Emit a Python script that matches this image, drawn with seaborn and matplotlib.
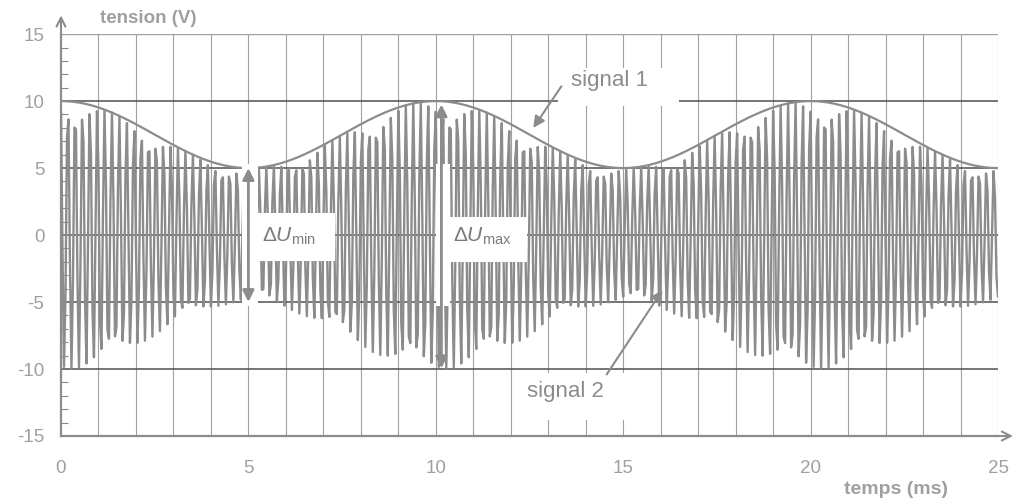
import numpy as np
import pandas as pd
import matplotlib
matplotlib.use("Agg")
import matplotlib.pyplot as plt
from matplotlib.patches import Rectangle
import seaborn as sns

# values (ms, V)
t_end = 25.0
u_max = 10.0           # envelope maximum (signal 1)
u_min = 5.0            # envelope minimum
mod_period = 10.0      # envelope period, ms
carrier_period = 0.2   # signal 2 carrier period, ms
sample_step = 0.04     # sampling of the recorded curve, ms

x_ticks = [0, 5, 10, 15, 20, 25]
y_ticks = [-15, -10, -5, 0, 5, 10, 15]
y_tick_labels = ["-15", "-10", "-5", "0", "5", "10", "15"]

# the two curves
t = np.arange(0, t_end + sample_step / 2, sample_step)
mean = (u_max + u_min) / 2
amp = (u_max - u_min) / 2
env = mean + amp * np.cos(2 * np.pi * t / mod_period)
sig2 = env * np.cos(2 * np.pi * t / carrier_period * 1.02 + 0.4)
df = pd.DataFrame({"t": t, "signal 1": env, "signal 2": sig2})

sns.set_style("white")
plt.rcParams["font.family"] = ["Liberation Sans", "DejaVu Sans"]
plt.rcParams["mathtext.fontset"] = "custom"
plt.rcParams["mathtext.rm"] = "Liberation Sans"
plt.rcParams["mathtext.it"] = "Liberation Sans:italic"

gray = "#8c8c8c"
light = "#a0a0a0"
dark = "#505050"

fig = plt.figure(figsize=(10.13, 4.98), dpi=100)
ax = fig.add_axes([0.0602, 0.1245, 0.925, 0.807])

# grid
for x in range(1, 26):
    ax.axvline(x, color=light, lw=0.8, zorder=1)
for y in [-10, -5, 0, 5, 10]:
    ax.axhline(y, color=dark, lw=1.1, zorder=1)
ax.axhline(15, color=light, lw=1.0, zorder=1)

sns.lineplot(data=df, x="t", y="signal 2", ax=ax, color=gray, lw=1.7,
             estimator=None, sort=False, zorder=2)
sns.lineplot(data=df, x="t", y="signal 1", ax=ax, color=gray, lw=1.6,
             estimator=None, sort=False, zorder=3)

# white areas behind the labels and around the arrows
boxes = [(4.83, -5.3, 0.42, 10.6), (5.25, -1.9, 2.05, 3.55),
         (10.0, -5.3, 0.37, 10.6), (10.37, -2.0, 2.06, 3.35),
         (13.25, 9.6, 3.25, 2.9), (12.24, -13.8, 2.93, 3.5)]
for bx, by, bw, bh in boxes:
    ax.add_patch(Rectangle((bx, by), bw, bh, color="white", zorder=4, lw=0))

# delta U arrows
arrow_kw = dict(arrowstyle="<|-|>", color=gray, lw=2, mutation_scale=17,
                shrinkA=0, shrinkB=0)
ax.annotate("", xy=(5.0, 5.0), xytext=(5.0, -5.0), arrowprops=arrow_kw, zorder=5)
ax.annotate("", xy=(10.15, 9.75), xytext=(10.15, -9.95), arrowprops=arrow_kw, zorder=5)
ax.text(5.35, -0.1, r"$\Delta U_{\mathrm{min}}$", fontsize=15, color="#7a7a7a",
        ha="left", va="center", zorder=6)
ax.text(10.45, -0.1, r"$\Delta U_{\mathrm{max}}$", fontsize=15, color="#7a7a7a",
        ha="left", va="center", zorder=6)

# signal labels
lab_kw = dict(arrowstyle="-|>", color=gray, lw=1.5, mutation_scale=17,
              shrinkA=0, shrinkB=0)
ax.annotate("", xy=(12.6, 8.0), xytext=(13.35, 11.1), arrowprops=lab_kw, zorder=5)
ax.text(13.6, 11.55, "signal 1", fontsize=16, color=gray, ha="left", va="center", zorder=6)
ax.annotate("", xy=(16.05, -4.1), xytext=(14.56, -10.4), arrowprops=lab_kw, zorder=5)
ax.text(12.43, -11.7, "signal 2", fontsize=16, color=gray, ha="left", va="center", zorder=6)

# axes
ax.set_xlim(0, 25)
ax.set_ylim(-15, 15)
ax.set_xticks(x_ticks)
ax.set_xticklabels([str(v) for v in x_ticks])
ax.set_yticks(y_ticks)
ax.set_yticklabels(y_tick_labels)
ax.set_yticks(np.arange(-15, 16, 1), minor=True)
ax.tick_params(axis="x", which="major", direction="out", length=6, width=1,
               color=gray, pad=11, labelsize=13.5, labelcolor=light)
ax.tick_params(axis="y", which="major", direction="out", length=5, width=1,
               color=gray, pad=7, labelsize=13.5, labelcolor=light)
ax.tick_params(axis="y", which="minor", direction="in", length=5, width=0.8,
               color=gray, left=True)
ax.set_xlabel("")
ax.set_ylabel("")
for s in ["top", "right"]:
    ax.spines[s].set_visible(False)
for s in ["left", "bottom"]:
    ax.spines[s].set_color(gray)
    ax.spines[s].set_linewidth(1.6)

# axis arrows
ax.annotate("", xy=(0, 16.4), xytext=(0, 14.9), annotation_clip=False,
            arrowprops=dict(arrowstyle="->", color=gray, lw=1.5, mutation_scale=16,
                            shrinkA=0, shrinkB=0))
ax.annotate("", xy=(25.4, -15), xytext=(24.9, -15), annotation_clip=False,
            arrowprops=dict(arrowstyle="->", color=gray, lw=1.5, mutation_scale=16,
                            shrinkA=0, shrinkB=0))

ax.text(1.04, 16.2, "tension (V)", fontsize=13.5, fontweight="bold", color=light,
        ha="left", va="center", clip_on=False)
ax.text(20.9, -19.0, "temps (ms)", fontsize=14, fontweight="bold", color=light,
        ha="left", va="center", clip_on=False)

fig.savefig("out.png", dpi=100)
